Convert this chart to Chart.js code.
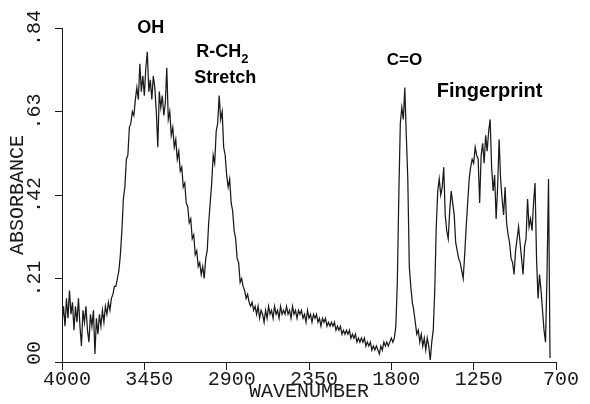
<!DOCTYPE html>
<html>
<head>
<meta charset="utf-8">
<script src="https://cdn.jsdelivr.net/npm/chart.js@4.4.1/dist/chart.umd.min.js"></script>
<style>
  html, body { margin: 0; padding: 0; background: #fff; }
  canvas { display: block; }
</style>
</head>
<body>
<canvas id="chart-ir" width="590" height="404"></canvas>
<script>
// IR spectrum: absorbance every 10 cm-1, from 4000 down to 740.
const wnStart = 4000;
const wnStep = 10;
const absorbance = [
  0.10, 0.14, 0.09, 0.16, 0.11, 0.18, 0.12, 0.15, 0.08, 0.14, // 4000
  0.10, 0.16, 0.09, 0.04, 0.13, 0.10, 0.14, 0.08, 0.05, 0.12, // 3900
  0.09, 0.13, 0.02, 0.11, 0.07, 0.12, 0.09, 0.13, 0.10, 0.14, // 3800
  0.12, 0.15, 0.13, 0.16, 0.17, 0.19, 0.19, 0.21, 0.23, 0.27, // 3700
  0.33, 0.41, 0.44, 0.51, 0.52, 0.59, 0.60, 0.63, 0.62, 0.66, // 3600
  0.69, 0.66, 0.75, 0.68, 0.72, 0.67, 0.74, 0.78, 0.68, 0.71, // 3500
  0.66, 0.72, 0.69, 0.63, 0.54, 0.68, 0.64, 0.67, 0.62, 0.65, // 3400
  0.74, 0.61, 0.63, 0.57, 0.59, 0.54, 0.56, 0.51, 0.53, 0.48, // 3300
  0.49, 0.44, 0.45, 0.40, 0.39, 0.35, 0.36, 0.31, 0.32, 0.27, // 3200
  0.28, 0.24, 0.25, 0.22, 0.24, 0.21, 0.26, 0.28, 0.35, 0.40, // 3100
  0.45, 0.52, 0.50, 0.58, 0.60, 0.67, 0.61, 0.63, 0.54, 0.52, // 3000
  0.47, 0.44, 0.46, 0.40, 0.38, 0.33, 0.31, 0.26, 0.25, 0.20, // 2900
  0.21, 0.19, 0.18, 0.16, 0.17, 0.15, 0.14, 0.15, 0.13, 0.14, // 2800
  0.12, 0.14, 0.11, 0.13, 0.12, 0.10, 0.13, 0.11, 0.14, 0.12, // 2700
  0.13, 0.11, 0.14, 0.12, 0.13, 0.11, 0.14, 0.12, 0.13, 0.12, // 2600
  0.14, 0.12, 0.13, 0.11, 0.14, 0.12, 0.13, 0.11, 0.13, 0.12, // 2500
  0.13, 0.11, 0.12, 0.10, 0.13, 0.11, 0.12, 0.10, 0.12, 0.11, // 2400
  0.12, 0.10, 0.11, 0.09, 0.11, 0.10, 0.11, 0.09, 0.10, 0.09, // 2300
  0.10, 0.09, 0.10, 0.08, 0.09, 0.08, 0.09, 0.07, 0.08, 0.07, // 2200
  0.08, 0.07, 0.08, 0.06, 0.07, 0.06, 0.07, 0.05, 0.06, 0.05, // 2100
  0.06, 0.05, 0.06, 0.04, 0.05, 0.04, 0.05, 0.03, 0.04, 0.03, // 2000
  0.04, 0.03, 0.02, 0.04, 0.03, 0.05, 0.04, 0.05, 0.04, 0.05, // 1900
  0.06, 0.05, 0.06, 0.09, 0.20, 0.42, 0.60, 0.64, 0.61, 0.69, // 1800
  0.57, 0.46, 0.24, 0.19, 0.15, 0.13, 0.10, 0.07, 0.08, 0.05, // 1700
  0.07, 0.04, 0.06, 0.03, 0.06, 0.04, 0.005, 0.05, 0.08, 0.18, // 1600
  0.34, 0.43, 0.46, 0.42, 0.44, 0.49, 0.37, 0.33, 0.31, 0.38, // 1500
  0.43, 0.40, 0.37, 0.30, 0.28, 0.26, 0.25, 0.23, 0.21, 0.27, // 1400
  0.34, 0.40, 0.46, 0.49, 0.51, 0.50, 0.54, 0.52, 0.51, 0.40, // 1300
  0.52, 0.55, 0.50, 0.57, 0.53, 0.58, 0.61, 0.49, 0.43, 0.47, // 1200
  0.36, 0.44, 0.56, 0.46, 0.41, 0.37, 0.44, 0.35, 0.32, 0.30, // 1100
  0.26, 0.25, 0.22, 0.28, 0.31, 0.34, 0.30, 0.26, 0.22, 0.29, // 1000
  0.31, 0.41, 0.34, 0.36, 0.33, 0.40, 0.45, 0.26, 0.16, 0.22, // 900
  0.18, 0.13, 0.08, 0.05, 0.22, 0.46, 0.01                    // 800
];

const xTicks = [4000, 3450, 2900, 2350, 1800, 1250, 700];
const yTicks = [0, 0.21, 0.42, 0.63, 0.84];
const yTickLabels = ['00', '.21', '.42', '.63', '.84'];

// band labels, anchored at (wavenumber, absorbance) of their left baseline
const bandText = ['OH', 'R-CH', 'Stretch', 'C=O', 'Fingerprint'];
const bandWn   = [3498, 3103, 3116, 1831, 1496];
const bandAbs  = [0.827, 0.767, 0.702, 0.747, 0.666];
const bandSize = [18, 18, 18, 17, 20];

const ink = '#1a1a1a';
const plotterFont = '"Liberation Mono", "DejaVu Sans Mono", monospace';
const labelFont = '"Liberation Sans", Arial, sans-serif';

const points = absorbance.map((a, i) => ({ x: wnStart - i * wnStep, y: a }));

// rotated y tick labels, read bottom to top like the plotter did
const yLabelsPlugin = {
  id: 'yLabels',
  afterDraw(chart) {
    const { ctx } = chart;
    const y = chart.scales.y;
    ctx.save();
    ctx.font = '20px ' + plotterFont;
    ctx.fillStyle = ink;
    ctx.textAlign = 'center';
    ctx.textBaseline = 'middle';
    yTicks.forEach((v, i) => {
      let py = y.getPixelForValue(v);
      if (i === 0) py -= 9;
      ctx.save();
      ctx.translate(35, py);
      ctx.rotate(-Math.PI / 2);
      ctx.fillText(yTickLabels[i], 0, 0);
      ctx.restore();
    });
    ctx.restore();
  },
};

const bandsPlugin = {
  id: 'bands',
  afterDraw(chart) {
    const { ctx } = chart;
    const { x, y } = chart.scales;
    ctx.save();
    ctx.fillStyle = '#000';
    ctx.textAlign = 'left';
    ctx.textBaseline = 'alphabetic';
    bandText.forEach((t, i) => {
      const px = x.getPixelForValue(bandWn[i]);
      const py = y.getPixelForValue(bandAbs[i]);
      ctx.font = 'bold ' + bandSize[i] + 'px ' + labelFont;
      ctx.fillText(t, px, py);
      if (t === 'R-CH') {
        const w = ctx.measureText(t).width;
        ctx.font = 'bold 13px ' + labelFont;
        ctx.fillText('2', px + w, py + 6);
      }
    });
    ctx.restore();
  },
};

new Chart(document.getElementById('chart-ir'), {
  type: 'line',
  data: {
    datasets: [{
      data: points,
      borderColor: ink,
      borderWidth: 1.25,
      pointRadius: 0,
      tension: 0,
      fill: false,
    }],
  },
  options: {
    responsive: false,
    animation: false,
    layout: { padding: { top: 28, right: 34, left: 0, bottom: 0 } },
    plugins: { legend: { display: false }, tooltip: { enabled: false } },
    scales: {
      x: {
        type: 'linear',
        reverse: true,
        min: 700,
        max: 4000,
        afterBuildTicks: (s) => { s.ticks = xTicks.map((v) => ({ value: v })); },
        afterFit: (s) => { s.height = 42; },
        grid: { drawOnChartArea: false, drawTicks: true, tickLength: 8, color: ink },
        border: { display: true, color: ink, dash: [3, 2] },
        ticks: {
          autoSkip: false, maxRotation: 0, labelOffset: 5, padding: 0,
          color: ink, font: { family: plotterFont, size: 20, lineHeight: 1 },
          callback: (v) => String(v),
        },
        title: {
          display: true, text: 'WAVENUMBER', color: ink, padding: { top: 0, bottom: 2 },
          font: { family: plotterFont, size: 20, lineHeight: 1 },
        },
      },
      y: {
        min: 0,
        max: 0.84,
        afterBuildTicks: (s) => { s.ticks = yTicks.map((v) => ({ value: v })); },
        afterFit: (s) => { s.width = 62; },
        grid: { drawOnChartArea: false, drawTicks: true, tickLength: 7, color: ink },
        border: { display: true, color: ink, dash: [1, 1] },
        ticks: { display: false },
        title: {
          display: true, text: 'ABSORBANCE', color: ink, padding: { top: 8, bottom: 0 },
          font: { family: plotterFont, size: 20, lineHeight: 1 },
        },
      },
    },
  },
  plugins: [yLabelsPlugin, bandsPlugin],
});
</script>
</body>
</html>
